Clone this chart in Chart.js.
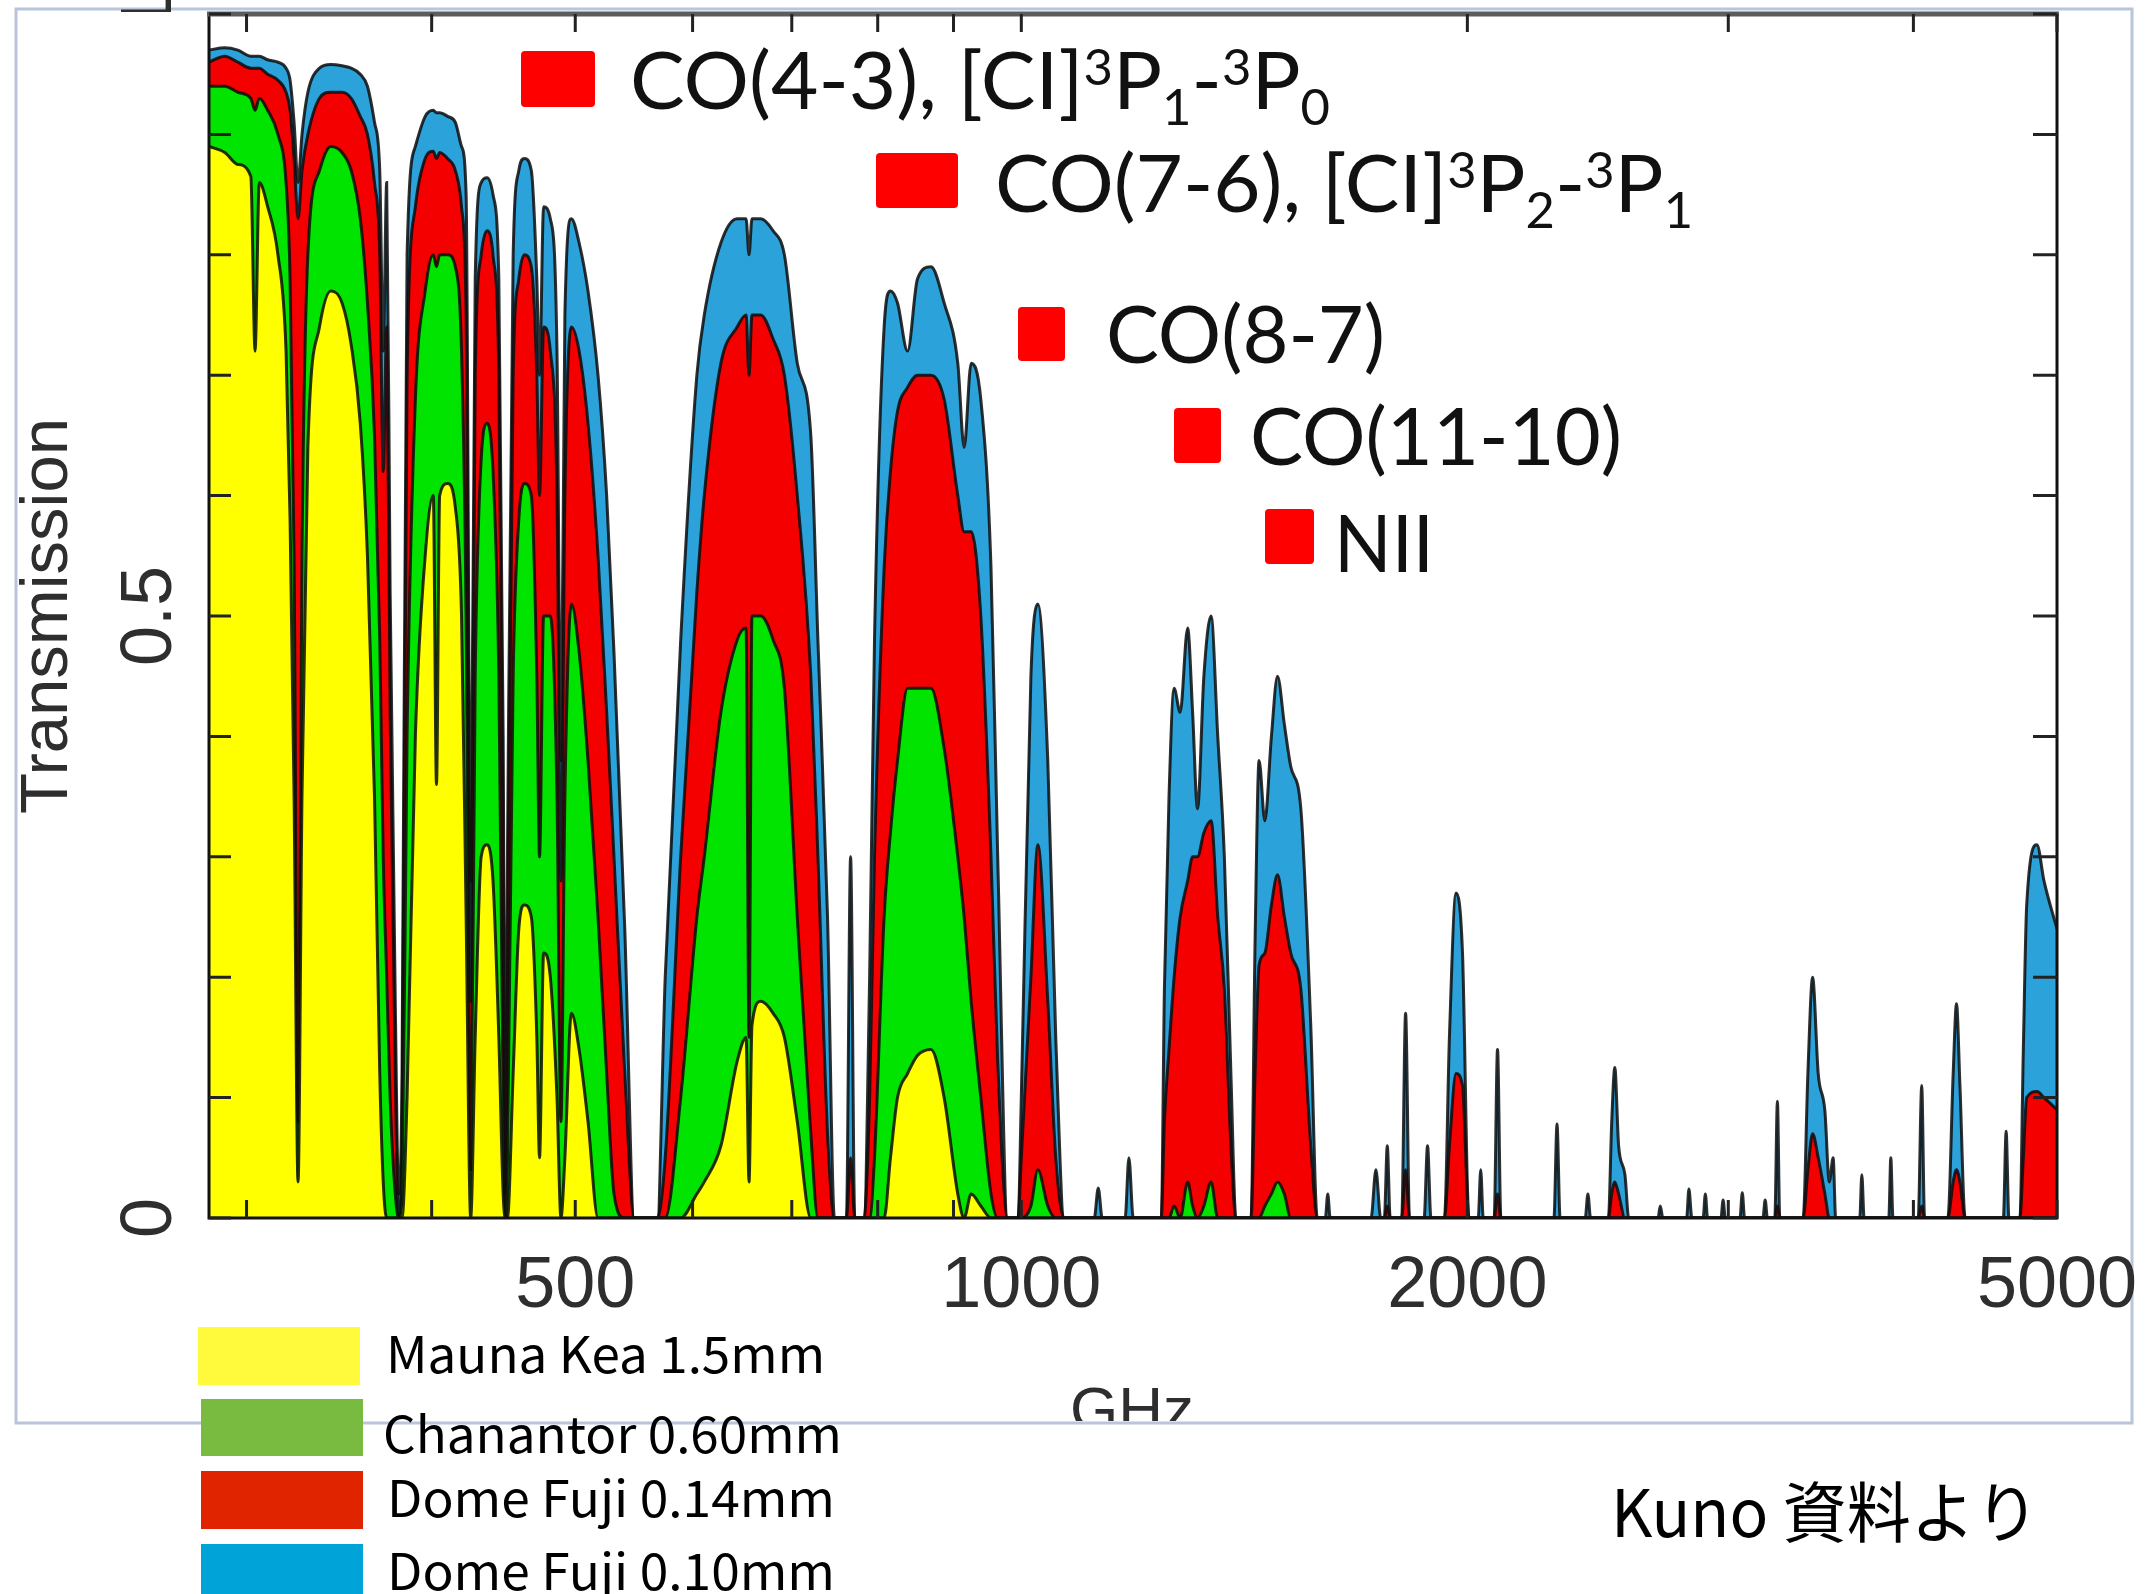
<!DOCTYPE html>
<html>
<head>
<meta charset="utf-8">
<title>Atmospheric transmission</title>
<script src="https://cdn.jsdelivr.net/npm/chart.js@4.4.1/dist/chart.umd.min.js"></script>
<style>
  html, body { margin: 0; padding: 0; background: #fff; overflow: hidden; }
  canvas { display: block; }
</style>
</head>
<body>
<canvas id="chart" width="2146" height="1594"></canvas>
<script>
// frequency grid (GHz)
const freqGHz = [
  283, 290, 296, 302, 304, 306, 310, 315, 319, 321, 323, 325, 327,
  330, 336, 342, 348, 353, 358, 362, 366, 369, 371, 373, 375, 378, 380, 382,
  385, 390, 396, 401, 403, 405, 410, 415, 419, 422, 425,
  428, 432, 436, 440, 444, 447, 448.5, 450,
  454, 458, 462, 467, 471, 473, 476, 481, 486, 489,
  492, 497, 503, 510, 518, 525, 531, 540, 548, 568,
  575, 589, 604, 611, 627, 643, 652, 655, 658, 667, 680, 692, 706, 721, 729, 740, 748, 762, 767, 772, 783,
  790, 796, 808, 816, 825, 838, 851, 869, 887, 906, 915, 925, 939, 954, 964, 979, 995,
  1000, 1015, 1026, 1042, 1055, 1069, 1120, 1127, 1134, 1175, 1182, 1190,
  1243, 1249, 1258, 1268, 1280, 1295, 1305, 1315, 1328, 1343, 1357, 1371, 1385, 1396,
  1429, 1438, 1447, 1460, 1475, 1489, 1505, 1520, 1544, 1568, 1584, 1604, 1610, 1616,
  1722, 1735, 1748, 1758, 1766, 1774, 1806, 1817, 1828, 1870, 1880, 1890, 1930, 1945, 1965, 1985, 2005, 2034, 2042, 2050, 2085, 2096, 2107,
  2288, 2299, 2310, 2402, 2412, 2422, 2490, 2503, 2515, 2530, 2555, 2570, 2690, 2699, 2710, 2812, 2822, 2835, 2885, 2895, 2905, 2966, 2976, 2986, 3055, 3066, 3077, 3166, 3177, 3188, 3225, 3238, 3250,
  3370, 3395, 3420, 3450, 3486, 3510, 3531, 3545, 3680, 3692, 3705, 3850, 3862, 3875, 4030, 4052, 4070, 4220, 4255, 4277, 4300, 4335, 4600, 4620, 4640, 4720, 4745, 4770, 4847, 4900, 5000
];

// Mauna Kea, PWV 1.5 mm
const maunaKea = [
  .89, .885, .875, .865, .72, .86, .84, .80, .72, .58, .35, .03, .35,
  .64, .74, .77, .76, .725, .66, .55, .35, .12, .03, 0, 0, 0, 0, 0,
  .1, .4, .55, .6, .36, .6, .61, .59, .5, .25, 0,
  .15, .3, .31, .28, .15, .02, 0, 0,
  .12, .24, .26, .25, .15, .05, .22, .2, .1, 0,
  .05, .17, .14, .08, 0, 0, 0, 0, 0, 0,
  0, 0, .02, .03, .06, .13, .15, .03, .16, .18, .17, .15, .08, 0, 0, 0, 0, 0, 0, 0, 0,
  0, 0, 0, .05, .1, .12, .135, .14, .1, .02, 0, .02, .01, 0, 0, 0, 0,
  0, 0, 0, 0, 0, 0, 0, 0, 0, 0, 0, 0,
  0, 0, 0, 0, 0, 0, 0, 0, 0, 0, 0, 0, 0, 0,
  0, 0, 0, 0, 0, 0, 0, 0, 0, 0, 0, 0, 0, 0,
  0, 0, 0, 0, 0, 0, 0, 0, 0, 0, 0, 0, 0, 0, 0, 0, 0, 0, 0, 0, 0, 0, 0,
  0, 0, 0, 0, 0, 0, 0, 0, 0, 0, 0, 0, 0, 0, 0, 0, 0, 0, 0, 0, 0, 0, 0, 0, 0, 0, 0, 0, 0, 0, 0, 0, 0,
  0, 0, 0, 0, 0, 0, 0, 0, 0, 0, 0, 0, 0, 0, 0, 0, 0, 0, 0, 0, 0, 0, 0, 0, 0, 0, 0, 0, 0, 0, 0
];

// Chajnantor, PWV 0.60 mm
const chanantor = [
  .94, .94, .935, .93, .92, .93, .92, .90, .86, .78, .55, .08, .55,
  .80, .87, .89, .885, .87, .83, .76, .65, .48, .3, .2, .1, .02, 0, .02,
  .4, .68, .77, .8, .79, .8, .8, .79, .72, .5, .04,
  .45, .63, .66, .62, .45, .1, 0, .05,
  .45, .58, .61, .6, .45, .3, .5, .5, .35, .08,
  .35, .51, .47, .38, .25, .12, .02, 0, 0, 0,
  0, .1, .25, .3, .42, .48, .49, .15, .5, .5, .48, .44, .25, .07, 0, 0, 0, 0, 0, 0, 0,
  0, .05, .25, .32, .38, .44, .44, .44, .39, .3, .25, .18, .1, .02, 0, 0, 0,
  0, .01, .04, .01, 0, 0, 0, 0, 0, 0, 0, 0,
  0, 0, 0, .01, 0, .03, .01, 0, .01, .03, 0, 0, 0, 0,
  0, 0, 0, .01, .02, .03, .02, 0, 0, 0, 0, 0, 0, 0,
  0, 0, 0, 0, 0, 0, 0, 0, 0, 0, 0, 0, 0, 0, 0, 0, 0, 0, 0, 0, 0, 0, 0,
  0, 0, 0, 0, 0, 0, 0, 0, 0, 0, 0, 0, 0, 0, 0, 0, 0, 0, 0, 0, 0, 0, 0, 0, 0, 0, 0, 0, 0, 0, 0, 0, 0,
  0, 0, 0, 0, 0, 0, 0, 0, 0, 0, 0, 0, 0, 0, 0, 0, 0, 0, 0, 0, 0, 0, 0, 0, 0, 0, 0, 0, 0, 0, 0
];

// Dome Fuji, PWV 0.14 mm
const domeFuji014 = [
  .96, .965, .96, .955, .955, .955, .95, .945, .935, .92, .88, .83, .87,
  .9, .93, .935, .935, .93, .915, .9, .86, .8, .62, .74, .42, .12, 0, .06,
  .7, .84, .88, .886, .88, .885, .88, .87, .84, .75, .18,
  .7, .8, .82, .8, .7, .3, .02, .2,
  .7, .78, .8, .79, .7, .6, .74, .72, .6, .28,
  .6, .74, .72, .66, .55, .42, .3, .12, 0, 0,
  .05, .3, .52, .6, .71, .74, .75, .7, .75, .75, .73, .7, .6, .45, .3, .07, 0, 0, .05, 0, 0,
  .1, .3, .54, .62, .67, .69, .7, .7, .68, .6, .57, .57, .5, .3, .13, 0, 0,
  .05, .2, .31, .18, .05, 0, 0, 0, 0, 0, 0, 0,
  0, .08, .14, .2, .25, .28, .3, .3, .32, .33, .25, .19, .06, 0,
  0, .12, .21, .22, .26, .285, .25, .22, .19, .06, 0, 0, 0, 0,
  0, 0, 0, 0, .01, 0, 0, .04, 0, 0, 0, 0, 0, .06, .12, .11, 0, 0, 0, 0, 0, .02, 0,
  0, 0, 0, 0, 0, 0, 0, .02, .03, .02, 0, 0, 0, 0, 0, 0, 0, 0, 0, 0, 0, 0, 0, 0, 0, 0, 0, 0, 0, 0, 0, .01, 0,
  0, .04, .07, .05, .02, 0, 0, 0, 0, 0, 0, 0, 0, 0, 0, .01, 0, 0, .03, .04, .03, 0, 0, 0, 0, 0, .05, .1, .105, .1, .09
];

// Dome Fuji, PWV 0.10 mm
const domeFuji010 = [
  .97, .972, .97, .965, .965, .965, .962, .96, .955, .945, .91, .86, .9,
  .935, .955, .958, .957, .955, .95, .94, .91, .87, .72, .86, .52, .18, .02, .12,
  .8, .89, .915, .92, .918, .918, .915, .91, .89, .85, .28,
  .78, .86, .864, .85, .78, .4, .05, .3,
  .8, .87, .88, .87, .78, .7, .84, .83, .72, .38,
  .75, .83, .81, .77, .7, .6, .47, .24, 0, 0,
  .2, .48, .7, .75, .81, .83, .83, .8, .83, .83, .82, .8, .71, .65, .48, .25, 0, 0, .3, 0, 0,
  .2, .48, .74, .77, .76, .72, .78, .79, .76, .71, .64, .71, .68, .54, .3, 0, 0,
  .1, .45, .51, .38, .15, 0, 0, .025, 0, 0, .05, 0,
  0, .19, .35, .44, .42, .49, .42, .34, .45, .5, .4, .3, .12, 0,
  0, .23, .38, .33, .4, .45, .41, .375, .34, .16, 0, 0, .02, 0,
  0, .04, 0, 0, .06, 0, 0, .17, 0, 0, .06, 0, 0, .15, .27, .22, 0, 0, .04, 0, 0, .14, 0,
  0, .078, 0, 0, .02, 0, 0, .08, .125, .06, .036, 0, 0, .01, 0, 0, .024, 0, 0, .02, 0, 0, .015, 0, 0, .021, 0, 0, .015, 0, 0, .097, 0,
  0, .12, .2, .12, .089, .03, .05, 0, 0, .036, 0, 0, .05, 0, 0, .11, 0, 0, .12, .178, .11, 0, 0, .072, 0, 0, .14, .26, .31, .28, .24
];

const seriesNames = ['Mauna Kea 1.5mm', 'Chanantor 0.60mm', 'Dome Fuji 0.14mm', 'Dome Fuji 0.10mm'];
const seriesValues = [maunaKea, chanantor, domeFuji014, domeFuji010];
const fillColors = ['#ffff00', '#00e400', '#f50000', '#2ba2da'];
const legendColors = ['#fffb3c', '#79bb41', '#e12400', '#00a3d7'];

const xTickValues = [300, 400, 500, 600, 700, 800, 900, 1000, 2000, 3000, 4000, 5000];
const xTickLabels = [500, 1000, 2000, 5000];
const yTickValues = [0, 0.1, 0.2, 0.3, 0.4, 0.5, 0.6, 0.7, 0.8, 0.9, 1];
const yTickLabels = [0, 0.5, 1];

// line labels: [text, 0 normal / 1 superscript / -1 subscript]
const lineLabels = [
  [['CO(4-3), [CI]', 0], ['3', 1], ['P', 0], ['1', -1], ['-', 0], ['3', 1], ['P', 0], ['0', -1]],
  [['CO(7-6), [CI]', 0], ['3', 1], ['P', 0], ['2', -1], ['-', 0], ['3', 1], ['P', 0], ['1', -1]],
  [['CO(8-7)', 0]],
  [['CO(11-10)', 0]],
  [['NII', 0]]
];
// where each label goes: red box and text start / baseline / width
const lineLabelBoxes = [
  { box: [521, 51, 74, 56], x: 630, base: 109, w: 700 },
  { box: [876, 153, 82, 55], x: 995, base: 212, w: 698 },
  { box: [1018, 307, 47, 54], x: 1106, base: 363, w: 279 },
  { box: [1174, 408, 47, 55], x: 1250, base: 465, w: 372 },
  { box: [1265, 509, 49, 55], x: 1334, base: 572, w: 100 }
];

function drawFitted(ctx, pieces, x, base, width, size, family) {
  let total = 0;
  const parts = pieces.map(([t, mode]) => {
    const s = mode === 0 ? size : size * 0.62;
    ctx.font = s + 'px ' + family;
    const w = ctx.measureText(t).width;
    total += w;
    return { t, mode, s, w };
  });
  ctx.save();
  ctx.translate(x, base);
  ctx.scale(width / total, 1);
  let cx = 0;
  parts.forEach(p => {
    ctx.font = p.s + 'px ' + family;
    const dy = p.mode === 1 ? -size * 0.3 : (p.mode === -1 ? size * 0.2 : 0);
    ctx.fillText(p.t, cx, dy);
    cx += p.w;
  });
  ctx.restore();
}

const decorations = {
  id: 'decorations',
  beforeDraw(chart) {
    const ctx = chart.ctx;
    ctx.save();
    ctx.fillStyle = '#fff';
    ctx.fillRect(0, 0, chart.width, chart.height);
    ctx.restore();
  },
  afterDatasetsDraw(chart) {
    const ctx = chart.ctx;
    const xs = chart.scales.x, ys = chart.scales.y;
    const { left, right, top, bottom } = chart.chartArea;
    ctx.save();

    // border of the pasted figure
    ctx.strokeStyle = '#b8c5db';
    ctx.lineWidth = 3;
    ctx.strokeRect(16, 9, 2116, 1414);

    // plot frame
    ctx.strokeStyle = '#111';
    ctx.lineWidth = 3;
    ctx.beginPath();
    ctx.moveTo(left, top);
    ctx.lineTo(left, bottom);
    ctx.lineTo(right, bottom);
    ctx.lineTo(right, top);
    ctx.stroke();
    ctx.strokeStyle = '#5c5c5c';
    ctx.lineWidth = 5;
    ctx.beginPath();
    ctx.moveTo(left - 2, top);
    ctx.lineTo(right + 2, top);
    ctx.stroke();

    // inward ticks
    ctx.strokeStyle = '#222';
    ctx.lineWidth = 3;
    ctx.beginPath();
    yTickValues.forEach(v => {
      const y = ys.getPixelForValue(v);
      ctx.moveTo(left, y); ctx.lineTo(left + 22, y);
      ctx.moveTo(right, y); ctx.lineTo(right - 24, y);
    });
    xTickValues.forEach(f => {
      const x = xs.getPixelForValue(f);
      ctx.moveTo(x, top); ctx.lineTo(x, top + 18);
      ctx.moveTo(x, bottom); ctx.lineTo(x, bottom - 18);
    });
    ctx.stroke();

    // tick labels
    ctx.fillStyle = '#2e2e2e';
    ctx.font = '72px "Liberation Sans", Arial, sans-serif';
    ctx.textAlign = 'center';
    ctx.textBaseline = 'alphabetic';
    xTickLabels.forEach(v => ctx.fillText(String(v), xs.getPixelForValue(v), 1307));
    yTickLabels.forEach(v => {
      ctx.save();
      // the top label is cut off by the edge of the pasted figure
      if (v === 1) { ctx.beginPath(); ctx.rect(0, 0, 400, 12); ctx.clip(); }
      ctx.translate(171, ys.getPixelForValue(v));
      ctx.rotate(-Math.PI / 2);
      ctx.fillText(String(v), 0, 0);
      ctx.restore();
    });

    // axis titles
    ctx.save();
    ctx.beginPath();
    ctx.rect(18, 0, 400, 1420);
    ctx.clip();
    ctx.translate(67, 616);
    ctx.rotate(-Math.PI / 2);
    ctx.font = '67px "Liberation Sans", Arial, sans-serif';
    ctx.fillText('Transmission', 0, 0);
    ctx.restore();

    ctx.save();
    ctx.beginPath();
    ctx.rect(0, 0, 2146, 1421);
    ctx.clip();
    ctx.font = '62px "Liberation Sans", Arial, sans-serif';
    ctx.fillText('GHz', 1132, 1430);
    ctx.restore();

    // line labels with red markers
    ctx.textAlign = 'left';
    lineLabels.forEach((pieces, i) => {
      const L = lineLabelBoxes[i];
      ctx.fillStyle = '#ff0000';
      ctx.beginPath();
      ctx.roundRect(L.box[0], L.box[1], L.box[2], L.box[3], 4);
      ctx.fill();
      ctx.fillStyle = '#111';
      drawFitted(ctx, pieces, L.x, L.base, L.w, 80, 'Lato, "Liberation Sans", sans-serif');
    });

    // legend
    const legendRows = [
      { rect: [198, 1327, 162, 58], x: 386, base: 1373, w: 439 },
      { rect: [201, 1399, 162, 57], x: 383, base: 1453, w: 459 },
      { rect: [201, 1471, 162, 58], x: 387, base: 1517, w: 448 },
      { rect: [201, 1544, 162, 58], x: 387, base: 1590, w: 448 }
    ];
    legendRows.forEach((r, i) => {
      ctx.fillStyle = legendColors[i];
      ctx.fillRect(r.rect[0], r.rect[1], r.rect[2], r.rect[3]);
      ctx.fillStyle = '#000';
      drawFitted(ctx, [[seriesNames[i], 0]], r.x, r.base, r.w, 50, '"Noto Sans CJK JP", sans-serif');
    });

    // source note
    ctx.fillStyle = '#000';
    drawFitted(ctx, [['Kuno 資料より', 0]], 1611, 1537, 428, 66, '"Noto Sans CJK JP", sans-serif');

    ctx.restore();
  }
};

const datasets = seriesValues.map((vals, i) => ({
  label: seriesNames[i],
  data: freqGHz.map((f, j) => ({ x: f, y: vals[j] })),
  backgroundColor: fillColors[i],
  borderColor: 'rgba(12,12,12,0.85)',
  borderWidth: 3,
  fill: 'origin',
  pointRadius: 0,
  cubicInterpolationMode: 'monotone'
}));

new Chart(document.getElementById('chart'), {
  type: 'line',
  data: { datasets },
  options: {
    responsive: false,
    animation: false,
    devicePixelRatio: 1,
    layout: { padding: { left: 209, top: 14, right: 89, bottom: 376 } },
    plugins: { legend: { display: false }, tooltip: { enabled: false } },
    scales: {
      x: { type: 'logarithmic', min: 283, max: 5000, display: false },
      y: { type: 'linear', min: 0, max: 1, display: false }
    }
  },
  plugins: [decorations]
});
</script>
</body>
</html>
